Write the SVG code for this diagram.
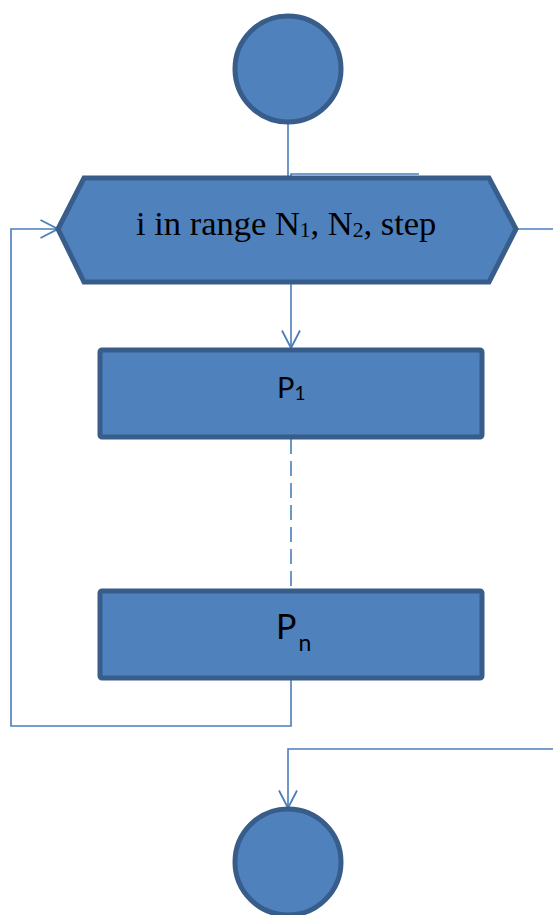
<svg xmlns="http://www.w3.org/2000/svg" width="553" height="915" viewBox="0 0 553 915">
  <style>
    .node { fill: #4F81BD; stroke: #385D8A; stroke-width: 5; }
    .conn { fill: none; stroke: #4A7EBB; stroke-width: 1.6; }
    .serif { font-family: "Liberation Serif", "Times New Roman", serif; fill: #000; }
    .sans { font-family: Lato, "Liberation Sans", sans-serif; fill: #000; }
  </style>
  <defs>
    <marker id="arrow" viewBox="0 0 20 20" refX="18.5" refY="10" markerWidth="20" markerHeight="20" markerUnits="userSpaceOnUse" orient="auto">
      <path d="M1,1 L18.5,10 L1,19" fill="none" stroke="#4A7EBB" stroke-width="1.8"/>
    </marker>
  </defs>
  <rect width="553" height="915" fill="#FFFFFF"/>

  <g id="connectors">
    <path class="conn" d="M288,124 L288,178"/>
    <path class="conn" d="M291,178 L291,174 L419,174"/>
    <path class="conn" d="M291,282 L291,348" marker-end="url(#arrow)"/>
    <path class="conn" d="M291,439 L291,589" stroke-dasharray="15 7"/>
    <path class="conn" d="M291,680 L291,726 L11,726 L11,229 L58,229" marker-end="url(#arrow)"/>
    <path class="conn" d="M516,229 L553,229"/>
    <path class="conn" d="M553,749 L288,749 L288,808" marker-end="url(#arrow)"/>
  </g>

  <g id="start">
    <circle class="node" cx="288" cy="69" r="53"/>
  </g>

  <g id="loop">
    <polygon class="node" points="58,229 84,178 489,178 516,229 489,282 84,282"/>
    <text class="serif" x="136" y="235" font-size="34.5">i in range N<tspan font-size="21.5" dy="2">1</tspan><tspan dy="-2">, N</tspan><tspan font-size="21.5" dy="2">2</tspan><tspan dy="-2">, step</tspan></text>
  </g>

  <g id="p1">
    <rect class="node" x="100" y="350" width="382" height="87" rx="2"/>
    <text class="sans" x="277" y="398" font-size="29">P<tspan font-size="19" dy="2">1</tspan></text>
  </g>

  <g id="pn">
    <rect class="node" x="100" y="591" width="382" height="87" rx="2"/>
    <text class="sans" x="276" y="639" font-size="34">P<tspan font-size="23" dy="12" dx="2">n</tspan></text>
  </g>

  <g id="end">
    <circle class="node" cx="288" cy="862" r="53"/>
  </g>
</svg>
